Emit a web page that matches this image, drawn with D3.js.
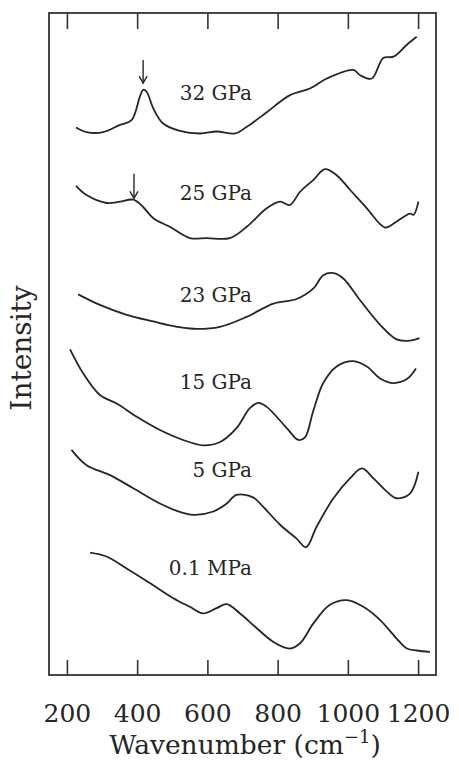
<!DOCTYPE html>
<html>
<head>
<meta charset="UTF-8">
<title>Raman spectra vs pressure</title>
<script src="https://d3js.org/d3.v7.min.js"></script>
<style>
  body { margin: 0; background: #fff; }
  svg text { fill: #262626; }
</style>
</head>
<body>
<svg width="459" height="769"></svg>
<script>
// pressure labels, top to bottom
const pressures = ["32 GPa", "25 GPa", "23 GPa", "15 GPa", "5 GPa", "0.1 MPa"];
const xTicks = [200, 400, 600, 800, 1000, 1200];

// wavenumber (cm-1) / intensity (arb., stacked)
const wn32 = [226, 256, 303, 351, 384, 408, 417, 427, 446, 474, 522, 579, 627, 679, 712, 769, 835, 892, 940, 1016, 1035, 1068, 1101, 1130, 1168, 1196];
const i32  = [82.7, 82.0, 82.0, 83.1, 83.8, 87.4, 88.4, 88.1, 85.6, 83.3, 82.2, 81.8, 82.1, 81.8, 82.8, 85.0, 87.6, 88.6, 90.1, 91.4, 90.6, 90.1, 93.2, 93.4, 95.2, 96.4];

const wn25 = [226, 256, 313, 351, 389, 417, 446, 493, 550, 598, 664, 712, 769, 807, 835, 864, 902, 935, 968, 1006, 1054, 1106, 1139, 1177, 1187, 1201];
const i25  = [73.9, 72.5, 71.3, 71.5, 71.8, 70.7, 69.0, 67.7, 66.0, 66.0, 66.0, 67.7, 70.5, 71.5, 71.0, 73.0, 74.8, 76.4, 75.5, 73.3, 70.5, 67.6, 68.5, 69.7, 69.5, 71.5];

const wn23 = [232, 294, 370, 446, 513, 560, 636, 712, 788, 854, 902, 930, 959, 987, 1035, 1092, 1139, 1177, 1204];
const i23  = [57.5, 55.9, 54.4, 53.4, 52.6, 52.3, 52.6, 54.1, 56.1, 56.8, 58.4, 60.4, 60.7, 59.9, 56.6, 52.9, 50.7, 50.5, 50.9];

const wn15 = [209, 246, 294, 342, 399, 465, 531, 588, 636, 683, 721, 745, 769, 826, 859, 878, 902, 930, 968, 1016, 1054, 1092, 1130, 1168, 1194];
const i15  = [49.2, 45.6, 42.3, 41.0, 39.0, 37.0, 35.5, 34.7, 35.2, 37.3, 40.3, 41.1, 40.5, 37.3, 35.5, 35.9, 40.0, 44.1, 46.6, 47.4, 46.6, 44.8, 44.1, 44.7, 46.3];

const wn5 = [213, 256, 323, 389, 465, 513, 560, 617, 655, 683, 731, 759, 807, 854, 881, 911, 959, 1006, 1040, 1073, 1111, 1139, 1177, 1201];
const i5  = [34.0, 31.7, 30.2, 28.2, 25.9, 24.8, 24.2, 24.7, 25.9, 27.2, 26.8, 25.4, 22.7, 20.6, 19.3, 22.4, 26.7, 29.7, 31.2, 29.7, 27.7, 26.7, 27.4, 30.7];

const wn01 = [266, 313, 370, 436, 503, 550, 588, 626, 655, 693, 740, 788, 835, 864, 902, 949, 997, 1044, 1092, 1139, 1168, 1196, 1234];
const i01  = [18.5, 17.9, 16.1, 13.9, 11.6, 10.3, 9.3, 10.1, 10.7, 9.3, 7.1, 5.0, 4.0, 4.8, 7.8, 10.6, 11.3, 10.3, 8.3, 5.5, 4.0, 3.7, 3.5];

// label placement (right edge wavenumber, intensity of text centre)
const labelWn = 727;
const labelI = [87.9, 72.8, 57.4, 44.3, 31.0, 16.2];

// arrows marking the new peak
const arrowWn = [417, 391];
const arrowFrom = [92.9, 75.7];
const arrowTo = [89.4, 72.0];

const series = [[wn32, i32], [wn25, i25], [wn23, i23], [wn15, i15], [wn5, i5], [wn01, i01]];

const font = "'DejaVu Serif', serif";
const svg = d3.select("svg");
const margin = {top: 13, right: 23, bottom: 94, left: 49};
const W = +svg.attr("width"), H = +svg.attr("height");

const x = d3.scaleLinear().domain([149, 1251]).range([margin.left, W - margin.right]);
const y = d3.scaleLinear().domain([0, 100]).range([H - margin.bottom, margin.top]);

const line = d3.line()
    .x(d => x(d[0]))
    .y(d => y(d[1]))
    .curve(d3.curveCatmullRom.alpha(0.5));

series.forEach(([wn, inten]) => {
    svg.append("path")
        .datum(wn.map((w, i) => [w, inten[i]]))
        .attr("d", line)
        .attr("fill", "none")
        .attr("stroke", "#262626")
        .attr("stroke-width", 1.8)
        .attr("stroke-linejoin", "round");
});

// frame
svg.append("rect")
    .attr("x", margin.left)
    .attr("y", margin.top)
    .attr("width", W - margin.left - margin.right)
    .attr("height", H - margin.top - margin.bottom)
    .attr("fill", "none")
    .attr("stroke", "#333")
    .attr("stroke-width", 1.8);

const xAxisBottom = svg.append("g")
    .attr("transform", `translate(0,${H - margin.bottom})`)
    .call(d3.axisBottom(x).tickValues(xTicks).tickSize(-15).tickPadding(29).tickFormat(d3.format("d")));
xAxisBottom.select(".domain").remove();
xAxisBottom.selectAll("line").attr("stroke", "#333").attr("stroke-width", 1.6);
xAxisBottom.selectAll("text")
    .style("font-family", font)
    .style("font-size", "25px");

const xAxisTop = svg.append("g")
    .attr("transform", `translate(0,${margin.top})`)
    .call(d3.axisTop(x).tickValues(xTicks).tickSize(-16).tickFormat(""));
xAxisTop.select(".domain").remove();
xAxisTop.selectAll("line").attr("stroke", "#333").attr("stroke-width", 1.6);

// pressure labels
svg.selectAll(".plabel")
    .data(pressures)
    .enter().append("text")
    .attr("class", "plabel")
    .attr("x", x(labelWn))
    .attr("y", (d, i) => y(labelI[i]))
    .attr("dy", "0.36em")
    .attr("text-anchor", "end")
    .style("font-family", font)
    .style("font-size", "20px")
    .text(d => d);

// arrows
arrowWn.forEach((w, i) => {
    const ax = x(w), y0 = y(arrowFrom[i]), y1 = y(arrowTo[i]);
    svg.append("line")
        .attr("x1", ax).attr("x2", ax)
        .attr("y1", y0).attr("y2", y1)
        .attr("stroke", "#262626").attr("stroke-width", 1.4);
    svg.append("path")
        .attr("d", `M${ax - 4},${y1 - 7} L${ax},${y1} L${ax + 4},${y1 - 7}`)
        .attr("fill", "none")
        .attr("stroke", "#262626").attr("stroke-width", 1.4);
});

// axis titles
const xt = svg.append("text")
    .attr("x", 245)
    .attr("y", 754)
    .attr("text-anchor", "middle")
    .style("font-family", font)
    .style("font-size", "26.5px");
xt.append("tspan").text("Wavenumber (cm");
xt.append("tspan").attr("dy", -11).style("font-size", "18px").text("\u22121");
xt.append("tspan").attr("dy", 11).text(")");

svg.append("text")
    .attr("transform", "translate(31,348) rotate(-90)")
    .attr("text-anchor", "middle")
    .style("font-family", font)
    .style("font-size", "28px")
    .text("Intensity");
</script>
</body>
</html>
